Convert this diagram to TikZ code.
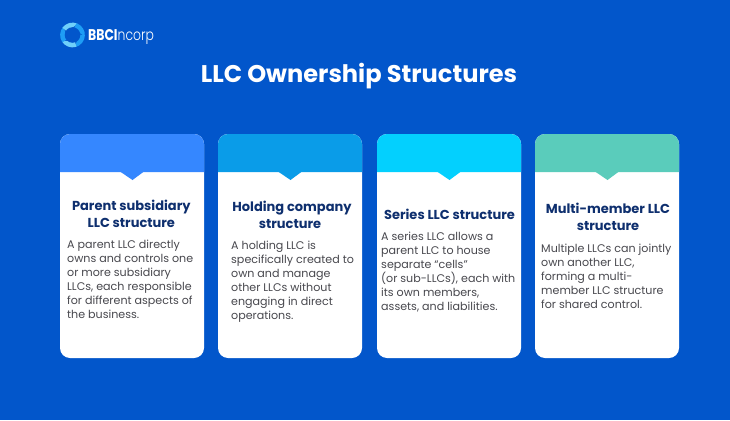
\documentclass[tikz,border=0pt]{standalone}
\usepackage{fontspec}
\setmainfont{Poppins}
\newfontfamily\plight{Poppins Light}
\usetikzlibrary{calc}
\definecolor{bg}{HTML}{0256CB}
\definecolor{hA}{HTML}{3587FF}
\definecolor{hB}{HTML}{0A9CE8}
\definecolor{hC}{HTML}{03D0FE}
\definecolor{hD}{HTML}{5ACCBB}
\definecolor{ttl}{HTML}{0E2F6E}
\definecolor{bodyc}{HTML}{48484E}
\definecolor{logoA}{HTML}{1E9DF5}
\definecolor{logoB}{HTML}{6FD0FA}
\tikzset{
  cardtitle/.style={font=\fontsize{13}{17}\selectfont\bfseries,text=ttl,align=center,anchor=center,inner sep=0pt},
  cardbody/.style={font=\fontsize{11.1}{14}\selectfont,text=bodyc,align=left,anchor=north west,inner sep=0pt}
}
\newcommand{\card}[2]{%
  \fill[white,rounded corners=10pt] (#1,134) rectangle ++(144,224);
  \fill[#2] (#1,172) -- (#1,144) arc[start angle=180,end angle=270,radius=10] -- ++(124,0) arc[start angle=270,end angle=360,radius=10] -- ++(0,28) -- cycle;
  \fill[#2] (#1+60,171.5) -- (#1+72.5,180) -- (#1+84,171.5) -- cycle;
}
\begin{document}
\begin{tikzpicture}[x=1pt,y=-1pt]
\useasboundingbox (0,0) rectangle (730,420);
\fill[bg] (0,0) rectangle (730,420);
% logo: five tapering blades around a ring
\coordinate (lc) at (72.5,35);
\foreach \a/\c in {0/logoA,72/logoB,144/logoA,216/logoB,288/logoA}{
  \fill[\c] ($(lc)+(\a:12.4)$) arc[start angle=\a,end angle=\a+78,radius=12.4]
     -- ($(lc)+(\a-4:6)$) -- cycle;
}
\fill[bg] (lc) circle[radius=7.8];
\node[anchor=west,inner sep=0pt,text=white] (logo) at (88,36.5) {\scalebox{0.8}[1]{\fontsize{15.5}{16}\selectfont\bfseries BBCI\plight\mdseries ncorp}};
\node[inner sep=0pt,text=white,font=\fontsize{24.1}{28}\selectfont\bfseries] (title) at (359,76) {LLC Ownership Structures};
\card{60}{hA}
\card{218}{hB}
\card{377}{hC}
\card{535}{hD}
\node[cardtitle] (t1) at (131.3,214) {Parent subsidiary\\LLC structure};
\node[cardbody] (b1) at (67,239.5) {A parent LLC directly\\owns and controls one\\or more subsidiary\\LLCs, each responsible\\for different aspects of\\the business.};
\node[cardtitle] (t2) at (290,215) {\hspace*{4pt}Holding company\\structure};
\node[cardbody] (b2) at (231,240.5) {A holding LLC is\\specifically created to\\own and manage\\other LLCs without\\engaging in direct\\operations.};
\node[cardtitle] (t3) at (449.5,214) {Series LLC structure};
\node[cardbody] (b3) at (381,231.5) {A series LLC allows a\\parent LLC to house\\separate “cells”\\(or sub-LLCs), each with\\its own members,\\assets, and liabilities.};
\node[cardtitle] (t4) at (608,217) {Multi-member LLC\\structure};
\node[cardbody] (b4) at (541,243.5) {Multiple LLCs can jointly\\own another LLC,\\forming a multi-\\member LLC structure\\for shared control.};
\end{tikzpicture}
\end{document}
